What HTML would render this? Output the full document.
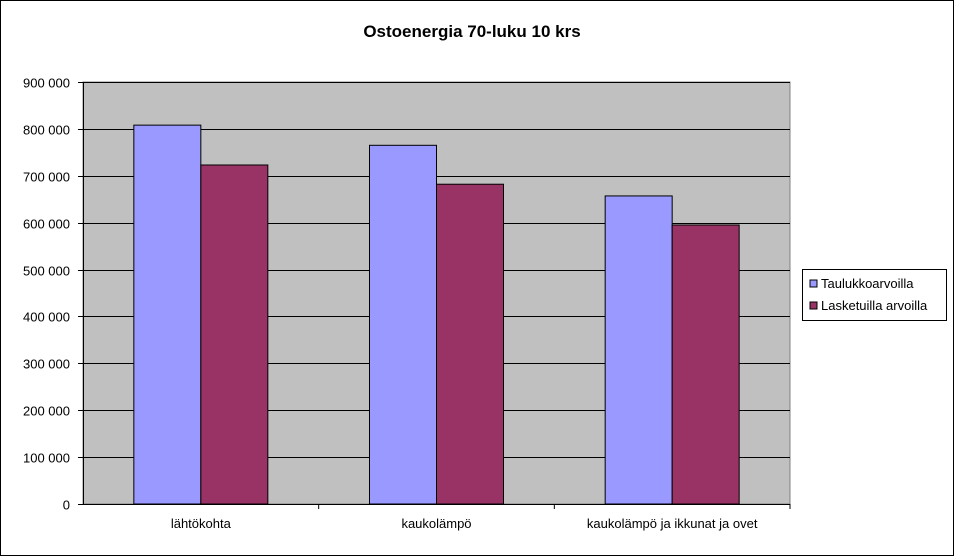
<!DOCTYPE html>
<html><head><meta charset="utf-8"><style>
body{margin:0;background:#fff}
svg{display:block;font-family:"Liberation Sans",Arial,sans-serif}
</style></head><body>
<svg id="chart" width="954" height="556" viewBox="0 0 954 556">
<rect x="0.5" y="0.5" width="953" height="555" fill="#fff" stroke="#000"/>
<text x="472" y="37" text-anchor="middle" font-size="17" font-weight="bold">Ostoenergia 70-luku 10 krs</text>
<rect x="83" y="82" width="707" height="422" fill="#c0c0c0" stroke="#808080"/>
<g id="grid"></g><g id="bars"></g><g id="axes"></g>
<g>
<rect x="802.5" y="269.5" width="144" height="51" fill="#fff" stroke="#000"/>
<rect x="810" y="280" width="7" height="7" fill="#9999ff" stroke="#000"/>
<text x="821" y="288" font-size="13">Taulukkoarvoilla</text>
<rect x="810" y="302" width="7" height="7" fill="#993366" stroke="#000"/>
<text x="821" y="310" font-size="13">Lasketuilla arvoilla</text>
</g>
</svg>
<script>
const categories=["lähtökohta","kaukolämpö","kaukolämpö ja ikkunat ja ovet"];
const taulukko=[808000,765000,657000];
const lasketuilla=[723000,682000,595000];
const ticks=[0,100000,200000,300000,400000,500000,600000,700000,800000,900000];
const tickLabels=["0","100 000","200 000","300 000","400 000","500 000","600 000","700 000","800 000","900 000"];
const NS="http://www.w3.org/2000/svg";
const L=83,R=790,T=82,B=504,maxV=900000;
const y=v=>B-(v/maxV)*(B-T);
const cw=(R-L)/categories.length;
const xc=i=>L+cw*(i+0.5);
function mk(tag,attrs,parent){const e=document.createElementNS(NS,tag);for(const k in attrs)e.setAttribute(k,attrs[k]);parent.appendChild(e);return e;}
const grid=document.getElementById('grid'),bars=document.getElementById('bars'),axes=document.getElementById('axes');
ticks.forEach((t,i)=>{
  const yy=Math.round(y(t))+0.5;
  if(t>0){const g=mk('line',{x1:L,x2:R,y1:yy,y2:yy,stroke:'#000','stroke-width':1},grid);
  
  }
  const tk=mk('line',{x1:L-5,x2:L,y1:yy,y2:yy,stroke:'#000'},axes);
  
  
  const tx=mk('text',{x:L-13,y:yy+5,'text-anchor':'end','font-size':13},axes);
  tx.textContent=tickLabels[i];
  
  
});
const bw=67;
categories.forEach((c,i)=>{
  const cx=xc(i);
  const b1=mk('rect',{x:cx-bw,y:y(taulukko[i]),width:bw,height:B-y(taulukko[i]),fill:'#9999ff',stroke:'#000'},bars);
  
  
  const b2=mk('rect',{x:cx,y:y(lasketuilla[i]),width:bw,height:B-y(lasketuilla[i]),fill:'#993366',stroke:'#000'},bars);
  
  
  const tx=mk('text',{x:cx,y:B+24,'text-anchor':'middle','font-size':13},axes);
  tx.textContent=c;
  
  
  const tk=mk('line',{x1:L+cw*(i+1),x2:L+cw*(i+1),y1:B,y2:B+5,stroke:'#000'},axes);
  
  
});
const ya=mk('line',{x1:L+0.5,x2:L+0.5,y1:T,y2:B,stroke:'#000'},axes);


const xa=mk('line',{x1:L,x2:R,y1:B+0.5,y2:B+0.5,stroke:'#000'},axes);


</script>
</body></html>
